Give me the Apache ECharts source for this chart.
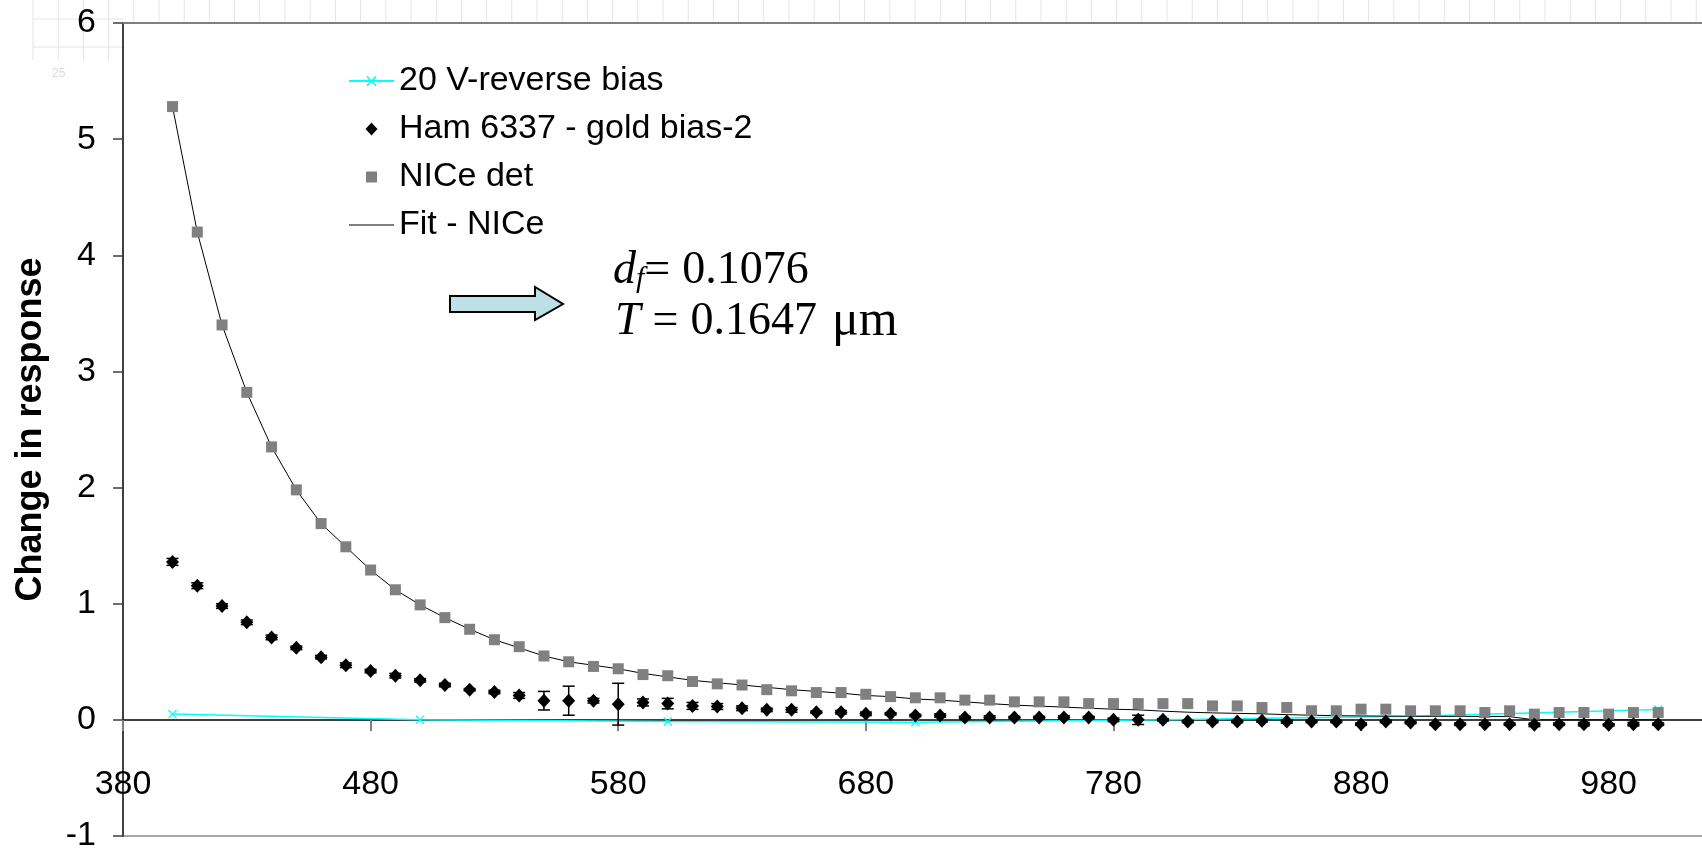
<!DOCTYPE html>
<html>
<head>
<meta charset="utf-8">
<title>Change in response</title>
<script src="https://cdn.jsdelivr.net/npm/echarts@6/dist/echarts.min.js"></script>
<style>
  html, body { margin: 0; padding: 0; background: #fff; }
  #chart { width: 1702px; height: 850px; }
</style>
</head>
<body>
<div id="chart"></div>
<script>
// wavelength grid (nm) shared by the NICe / Ham measurements and the fit
var wavelengths = [400, 410, 420, 430, 440, 450, 460, 470, 480, 490,
  500, 510, 520, 530, 540, 550, 560, 570, 580, 590,
  600, 610, 620, 630, 640, 650, 660, 670, 680, 690,
  700, 710, 720, 730, 740, 750, 760, 770, 780, 790,
  800, 810, 820, 830, 840, 850, 860, 870, 880, 890,
  900, 910, 920, 930, 940, 950, 960, 970, 980, 990, 1000];

var niceDet = [5.28, 4.20, 3.40, 2.82, 2.35, 1.98, 1.69, 1.49, 1.29, 1.12,
  0.99, 0.88, 0.78, 0.69, 0.63, 0.55, 0.50, 0.46, 0.44, 0.39,
  0.38, 0.33, 0.31, 0.30, 0.26, 0.25, 0.235, 0.235, 0.22, 0.20,
  0.19, 0.19, 0.17, 0.17, 0.155, 0.155, 0.155, 0.14, 0.14, 0.14,
  0.14, 0.14, 0.12, 0.12, 0.106, 0.106, 0.078, 0.078, 0.092, 0.092,
  0.078, 0.078, 0.078, 0.063, 0.078, 0.049, 0.063, 0.063, 0.049, 0.063, 0.063];

var fitNice = [5.28, 4.20, 3.40, 2.82, 2.35, 1.98, 1.69, 1.49, 1.29, 1.12,
  0.99, 0.88, 0.78, 0.69, 0.62, 0.55, 0.50, 0.47, 0.44, 0.40,
  0.37, 0.34, 0.32, 0.30, 0.28, 0.26, 0.245, 0.23, 0.21, 0.20,
  0.18, 0.17, 0.155, 0.14, 0.127, 0.118, 0.11, 0.10, 0.092, 0.086,
  0.075, 0.066, 0.06, 0.056, 0.052, 0.045, 0.04, 0.036, 0.034, 0.032,
  0.031, 0.03, 0.03, 0.029, 0.028, 0, 0, 0, 0, 0, 0];

var ham = [1.36, 1.155, 0.98, 0.84, 0.71, 0.62, 0.54, 0.47, 0.42, 0.38,
  0.34, 0.30, 0.26, 0.24, 0.21, 0.165, 0.165, 0.165, 0.135, 0.15,
  0.14, 0.12, 0.115, 0.10, 0.086, 0.086, 0.066, 0.066, 0.052, 0.052,
  0.037, 0.037, 0.02, 0.02, 0.02, 0.02, 0.02, 0.02, 0.0, 0.0,
  0.0, -0.014, -0.014, -0.014, -0.008, -0.014, -0.014, -0.014, -0.037, -0.014,
  -0.023, -0.037, -0.037, -0.037, -0.037, -0.043, -0.037, -0.037, -0.043, -0.037, -0.037];

var hamErr = [0.03, 0.025, 0.02, 0.02, 0.02, 0.015, 0.015, 0.02, 0.015, 0.02,
  0.015, 0.015, 0.01, 0.015, 0.025, 0.08, 0.125, 0.02, 0.18, 0.03,
  0.045, 0.03, 0.025, 0.02, 0.015, 0.02, 0.01, 0.015, 0.015, 0.01,
  0.01, 0.015, 0.01, 0.015, 0.01, 0.01, 0.015, 0.01, 0.015, 0.04,
  0.01, 0.01, 0.01, 0.01, 0.01, 0.015, 0.01, 0.01, 0.01, 0.01,
  0.01, 0.01, 0.01, 0.01, 0.01, 0.015, 0.01, 0.015, 0.01, 0.015, 0.01];

// 20 V reverse bias, measured every 100 nm
var revWl = [400, 500, 600, 700, 800, 900, 1000];
var revVal = [0.05, 0.0, -0.015, -0.02, 0.0, 0.03, 0.09];

var seriesNames = ['20 V-reverse bias', 'Ham 6337 - gold bias-2', 'NICe det', 'Fit - NICe'];

var FONT = '"Liberation Sans", Arial, sans-serif';
var SERIF = '"Liberation Serif", "Times New Roman", serif';
var CROSS = 'path://M0,1L1,0L5,4L9,0L10,1L6,5L10,9L9,10L5,6L1,10L0,9L4,5Z';

// legend icons drawn inside a 45x13 box so the marker keeps its own size
var BOX = 'M0,0L0.01,0L0,0.01Z M45,13L44.99,13L45,12.99Z ';
var ICON_DIAMOND = 'path://' + BOX + 'M22.5,0L28.5,6.5L22.5,13L16.5,6.5Z';
var ICON_SQUARE = 'path://' + BOX + 'M17,1L28,1L28,12L17,12Z';
var ICON_LINE = 'path://' + BOX + 'M0,6L45,6L45,7L0,7Z';

function pairs(xs, ys) {
  return xs.map(function (x, i) { return [x, ys[i]]; });
}

var errData = wavelengths.map(function (x, i) {
  return [x, ham[i] - hamErr[i], ham[i] + hamErr[i]];
});

// faint spreadsheet grid showing above the plot frame
var backdrop = [];
for (var gx = 33; gx < 1702; gx += 25.2) {
  backdrop.push({
    type: 'line', silent: true, z: -10,
    shape: { x1: gx, y1: 0, x2: gx, y2: gx < 120 ? 60 : 21 },
    style: { stroke: '#e4e4e4', lineWidth: 1 }
  });
}
[19, 47].forEach(function (gy) {
  backdrop.push({
    type: 'line', silent: true, z: -10,
    shape: { x1: 33, y1: gy, x2: 123, y2: gy },
    style: { stroke: '#e4e4e4', lineWidth: 1 }
  });
});
backdrop.push({
  type: 'text', silent: true, z: -10, left: 52, top: 68,
  style: { text: '25', fill: '#d8d8d8', font: '12px ' + FONT }
});

var chart = echarts.init(document.getElementById('chart'));

var option = {
  animation: false,
  backgroundColor: '#fff',
  textStyle: { fontFamily: FONT },
  grid: {
    left: 123, right: -2, top: 23, bottom: 14,
    outerBoundsMode: 'none',
    containLabel: false,
    show: true, borderColor: '#a6a6a6', borderWidth: 2, backgroundColor: '#fff'
  },
  legend: {
    orient: 'vertical',
    left: 343, top: 59,
    itemWidth: 45, itemHeight: 13, itemGap: 14,
    data: [
      { name: seriesNames[0] },
      { name: seriesNames[1], icon: ICON_DIAMOND },
      { name: seriesNames[2], icon: ICON_SQUARE },
      { name: seriesNames[3], icon: ICON_LINE }
    ],
    textStyle: { fontSize: 34, color: '#000', fontFamily: FONT }
  },
  xAxis: [{
    type: 'value',
    position: 'bottom',
    // sits on y = 0: one unit (116 px) up from the bottom of the plot
    offset: -116,
    min: 380, max: 1018.5, interval: 100,
    splitLine: { show: false },
    axisLine: { onZero: false, lineStyle: { color: '#000', width: 1.5 } },
    axisTick: { show: true, length: 11, lineStyle: { color: '#808080', width: 2 } },
    axisLabel: { fontSize: 34, color: '#000', margin: 48, showMaxLabel: false }
  }, {
    type: 'value',
    position: 'top',
    min: 380, max: 1018.5,
    splitLine: { show: false },
    axisLine: { onZero: false, lineStyle: { color: '#7f7f7f', width: 2 } },
    axisTick: { show: false },
    axisLabel: { show: false }
  }],
  yAxis: {
    type: 'value',
    min: -1, max: 6, interval: 1,
    name: 'Change in response',
    nameLocation: 'middle',
    nameRotate: 90,
    nameGap: 74,
    nameTextStyle: { fontSize: 36, fontWeight: 'bold', color: '#000' },
    splitLine: { show: false },
    axisLine: { show: true, onZero: false, lineStyle: { color: '#404040', width: 2 } },
    axisTick: { show: true, length: 10, lineStyle: { color: '#404040', width: 1.5 } },
    axisLabel: { fontSize: 34, color: '#000', margin: 27 }
  },
  series: [
    {
      name: seriesNames[0],
      type: 'line',
      data: pairs(revWl, revVal),
      symbol: CROSS,
      symbolSize: 9,
      showAllSymbol: true,
      itemStyle: { color: '#00ffff' },
      lineStyle: { color: '#00ffff', width: 1.5 },
      z: 2
    },
    {
      name: seriesNames[3],
      type: 'line',
      data: pairs(wavelengths, fitNice),
      symbol: 'none',
      itemStyle: { color: '#000' },
      lineStyle: { color: '#000', width: 1 },
      z: 3
    },
    {
      name: seriesNames[2],
      type: 'scatter',
      data: pairs(wavelengths, niceDet),
      symbol: 'rect',
      symbolSize: 11,
      itemStyle: { color: '#808080', opacity: 1 },
      z: 4
    },
    {
      name: seriesNames[1],
      type: 'scatter',
      data: pairs(wavelengths, ham),
      symbol: 'diamond',
      symbolSize: [13, 14],
      itemStyle: { color: '#000', opacity: 1 },
      z: 5
    },
    {
      name: 'error',
      type: 'custom',
      data: errData,
      encode: { x: 0, y: [1, 2] },
      z: 6,
      silent: true,
      renderItem: function (params, api) {
        var top = api.coord([api.value(0), api.value(2)]);
        var bot = api.coord([api.value(0), api.value(1)]);
        var w = 6;
        var st = { stroke: '#000', lineWidth: 1.5 };
        return {
          type: 'group',
          children: [
            { type: 'line', shape: { x1: top[0], y1: top[1], x2: bot[0], y2: bot[1] }, style: st },
            { type: 'line', shape: { x1: top[0] - w, y1: top[1], x2: top[0] + w, y2: top[1] }, style: st },
            { type: 'line', shape: { x1: bot[0] - w, y1: bot[1], x2: bot[0] + w, y2: bot[1] }, style: st }
          ]
        };
      }
    }
  ],
  graphic: backdrop.concat([
    {
      type: 'polygon',
      z: 50,
      shape: { points: [[450, 296], [535, 296], [535, 287], [563, 304], [535, 320], [535, 312], [450, 312]] },
      style: { fill: '#bce0e3', stroke: '#000', lineWidth: 2 }
    },
    {
      type: 'text',
      z: 50,
      x: 613, y: 271,
      style: {
        text: '{i|d}{s|f}{eq|=}{num|0.1076}',
        verticalAlign: 'middle',
        rich: {
          i: { font: 'italic 46px ' + SERIF, fill: '#000' },
          s: { font: 'italic 30px ' + SERIF, fill: '#000', padding: [16, 0, 0, 0] },
          eq: { font: '46px ' + SERIF, fill: '#000' },
          num: { font: '46px ' + SERIF, fill: '#000', padding: [0, 0, 0, 12] }
        }
      }
    },
    {
      type: 'text',
      z: 50,
      x: 615, y: 322,
      style: {
        text: '{t|T}{eq|=}{num|0.1647}{u|\u03bcm}',
        verticalAlign: 'middle',
        rich: {
          t: { font: 'italic 46px ' + SERIF, fill: '#000' },
          eq: { font: '46px ' + SERIF, fill: '#000', padding: [0, 0, 0, 12] },
          num: { font: '46px ' + SERIF, fill: '#000', padding: [0, 0, 0, 12] },
          u: { font: '50px ' + SERIF, fill: '#000', padding: [0, 0, 0, 15] }
        }
      }
    }
  ])
};

chart.setOption(option);
</script>
</body>
</html>
